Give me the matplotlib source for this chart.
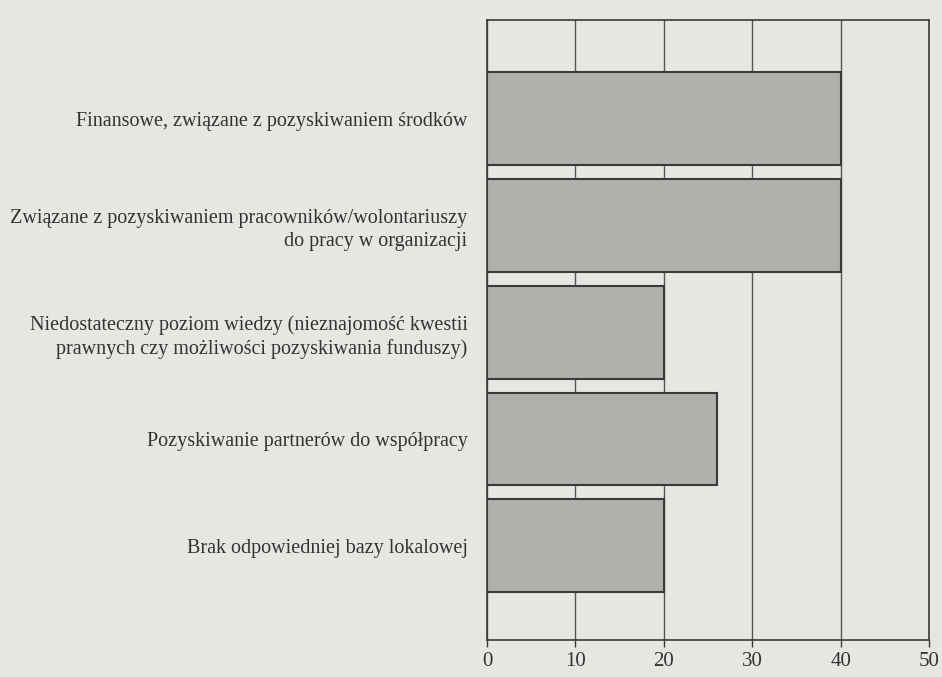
## Horizontal bar chart - problems reported by organisations (scanned book figure)

import numpy as np
import matplotlib
matplotlib.use('Agg')
import matplotlib.pyplot as plt

# Data
categories = ['Finansowe, związane z pozyskiwaniem środków',
              'Związane z pozyskiwaniem pracowników/wolontariuszy\ndo pracy w organizacji',
              'Niedostateczny poziom wiedzy (nieznajomość kwestii\nprawnych czy możliwości pozyskiwania funduszy)',
              'Pozyskiwanie partnerów do współpracy',
              'Brak odpowiedniej bazy lokalowej']
values = [40, 40, 20, 26, 20]
x_ticks = [0, 10, 20, 30, 40, 50]

# Colours
page = '#e6e7e3'
ink = '#3a3a3a'

plt.rcParams['font.family'] = ['Liberation Serif', 'DejaVu Serif']

fig = plt.figure(figsize=(9.42, 6.77), dpi=100, facecolor=page)
ax = fig.add_axes([0.517, 0.055, 0.4692, 0.915], facecolor=page)

pos = np.arange(len(categories))
ax.barh(pos, values, height=0.87, color='#b0b0ad', edgecolor=ink, linewidth=1.5, zorder=3)

ax.set_xlim(0, 50)
ax.set_ylim(4.88, -0.92)
ax.set_xticks(x_ticks)
ax.set_xticklabels([str(t) for t in x_ticks], fontsize=15, color='#333333')
ax.set_yticks(pos)
ax.set_yticklabels(categories, fontsize=14.5, color='#333333', linespacing=1.3)

ax.tick_params(axis='y', length=0, pad=14)
ax.tick_params(axis='x', length=5, width=1, color=ink, pad=4)

ax.grid(axis='x', color='#555555', linewidth=1)
ax.set_axisbelow(True)
for s in ax.spines.values():
    s.set_color(ink)
    s.set_linewidth(1.2)

fig.savefig('out.png', dpi=100, facecolor=page)
